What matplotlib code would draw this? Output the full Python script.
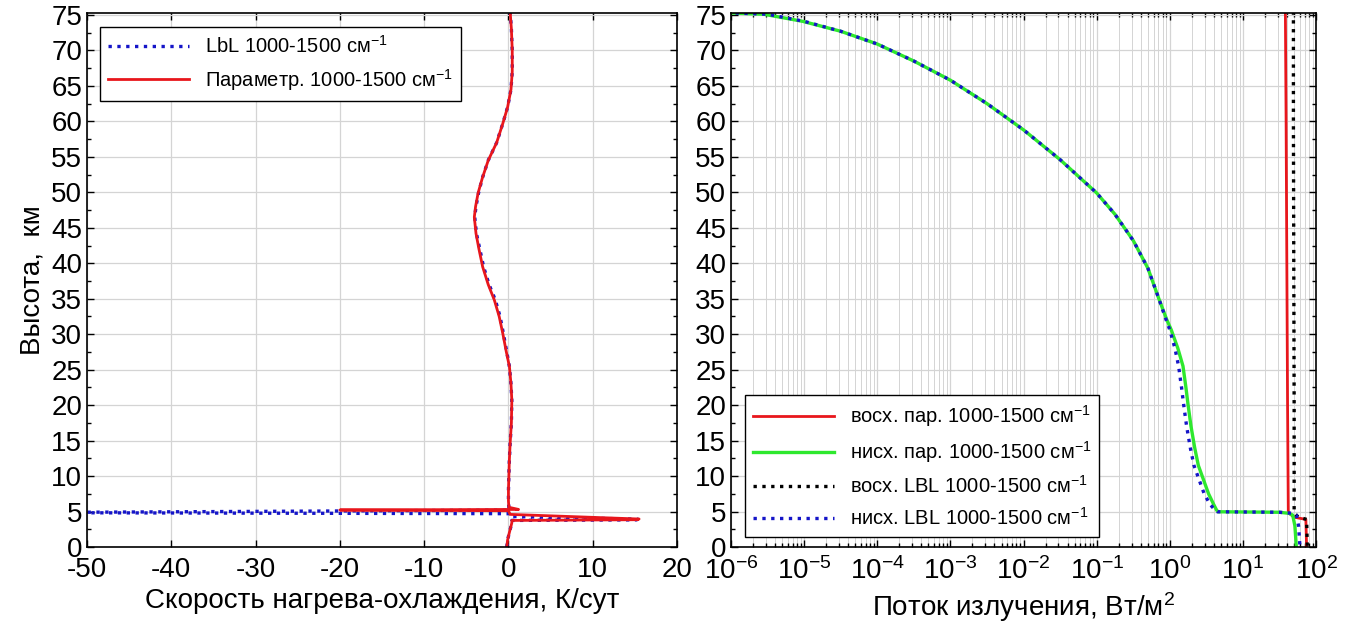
import numpy as np
import matplotlib
matplotlib.use("Agg")
import matplotlib.pyplot as plt
from matplotlib.ticker import MultipleLocator, LogLocator

plt.rcParams['font.family'] = ['Liberation Sans', 'DejaVu Sans']
plt.rcParams['mathtext.fontset'] = 'custom'
plt.rcParams['mathtext.rm'] = 'Liberation Sans'
plt.rcParams['mathtext.it'] = 'Liberation Sans'
plt.rcParams['mathtext.bf'] = 'Liberation Sans'
plt.rcParams['axes.unicode_minus'] = False

# --- left panel: heating/cooling rate, K/day vs altitude, km ---
alt_par = [75.5, 73, 70, 67, 64.5, 62, 59.7, 57, 54.5, 52, 49.9, 48, 46.5, 44.2, 42,
           39.5, 37, 34.8, 32.5, 30.1, 27.5, 25.4, 23, 20.7, 17.5, 14.6, 12, 10, 8,
           6.5, 5.6, 5.3, 5.22, 5.12, 4.6, 3.95, 3.85, 3.75, 3.4, 2.0, 1.0, 0.0]
hr_par = [0.2, 0.35, 0.45, 0.45, 0.3, -0.1, -0.67, -1.4, -2.4, -3.1, -3.6, -3.9, -4.05,
          -3.85, -3.5, -3.06, -2.4, -1.67, -1.1, -0.67, -0.25, 0.12, 0.3, 0.4, 0.35,
          0.2, 0.1, 0.05, 0.0, 0.0, 0.05, 1.2, -20.0, 0.0, 0.2, 15.5, 15.3, 0.4, 0.4,
          0.1, -0.1, -0.2]

alt_lbl = [75.5, 73, 70, 67, 64.5, 62, 59.7, 57, 54.5, 52, 49.9, 48, 46.5, 44.2, 42,
           39.5, 37, 34.8, 32.5, 30.1, 27.5, 25.4, 23, 20.7, 17.5, 14.6, 12, 10, 8,
           6.5, 5.6, 5.2, 4.85, 4.7, 4.3, 3.93, 3.83, 3.75, 3.4, 2.0, 1.0, 0.0]
hr_lbl = [0.2, 0.35, 0.45, 0.45, 0.3, -0.1, -0.67, -1.4, -2.4, -3.1, -3.55, -3.85,
          -4.0, -3.8, -3.4, -2.95, -2.3, -1.55, -1.0, -0.6, -0.2, 0.12, 0.3, 0.4,
          0.35, 0.2, 0.1, 0.05, 0.0, 0.0, 0.05, 0.1, -60.0, 0.3, 0.4, 15.3, 15.2,
          0.4, 0.4, 0.1, -0.1, -0.2]

# --- right panel: flux, W/m^2 (log10) vs altitude, km ---
alt_dn = [75.45, 75.3, 75.1, 74.1, 72.7, 70.9, 68.5, 65.8, 62.5, 58.8, 54.6, 49.9,
          46.9, 43.2, 39.3, 35.0, 32.0, 30.6, 28.0, 25.5, 22.5, 20.0, 17.0, 14.0,
          11.5, 9.5, 7.5, 6.0, 5.2, 4.97, 4.9, 4.75, 4.5, 3.0, 0.0]
lg_dn_lbl = [-6.3, -6.0, -5.5, -5.0, -4.5, -4.0, -3.5, -3.0, -2.5, -2.0, -1.5, -1.0,
             -0.75, -0.5, -0.3, -0.15, -0.05, 0.0, 0.07, 0.12, 0.16, 0.19, 0.23,
             0.28, 0.33, 0.40, 0.47, 0.55, 0.62, 0.65, 1.5, 1.68, 1.73, 1.76, 1.78]
lg_dn_par = [-6.3, -6.05, -5.55, -5.02, -4.5, -4.0, -3.5, -3.0, -2.5, -2.0, -1.5,
             -1.0, -0.75, -0.5, -0.3, -0.15, -0.04, 0.02, 0.11, 0.18, 0.22, 0.25,
             0.29, 0.34, 0.39, 0.46, 0.53, 0.60, 0.64, 0.66, 1.5, 1.63, 1.68, 1.71,
             1.73]

alt_up = [75.5, 60, 40, 20, 5.0, 4.6, 4.2, 3.9, 2.0, 0.0]
lg_up_par = [1.58, 1.59, 1.60, 1.61, 1.62, 1.65, 1.70, 1.86, 1.865, 1.87]
lg_up_lbl = [1.69, 1.69, 1.695, 1.70, 1.70, 1.72, 1.76, 1.87, 1.875, 1.88]

RED = '#e8161c'
GREEN = '#2ee82e'
BLUE = '#1515c8'
GRID = '#d4d4d4'

fig = plt.figure(figsize=(13.54, 6.41), dpi=100)
ax1 = fig.add_axes([0.0643, 0.1466, 0.4357, 0.8334])
ax2 = fig.add_axes([0.5399, 0.1466, 0.4321, 0.8334])

ax1.plot(hr_lbl, alt_lbl, ':', color=BLUE, lw=2.4, label='LbL 1000-1500 см$^{-1}$')
ax1.plot(hr_par, alt_par, '-', color=RED, lw=2.0, label='Параметр. 1000-1500 см$^{-1}$')
ax1.set_xlim(-50, 20)
ax1.set_ylim(0, 75.3)
ax1.xaxis.set_major_locator(MultipleLocator(10))
ax1.yaxis.set_major_locator(MultipleLocator(5))
ax1.yaxis.set_minor_locator(MultipleLocator(2.5))
ax1.set_xlabel('Скорость нагрева-охлаждения, К/сут', fontsize=20)
ax1.set_ylabel('Высота,  км', fontsize=20)
ax1.legend(loc='upper left', bbox_to_anchor=(0.022, 0.974), borderaxespad=0,
           fontsize=14.5, handlelength=4, fancybox=False, framealpha=1,
           edgecolor='black')

dn_lbl = np.power(10.0, lg_dn_lbl)
dn_par = np.power(10.0, lg_dn_par)
up_lbl = np.power(10.0, lg_up_lbl)
up_par = np.power(10.0, lg_up_par)

ax2.plot(up_par, alt_up, '-', color=RED, lw=2.0, label='восх. пар. 1000-1500 см$^{-1}$')
ax2.plot(dn_par, alt_dn, '-', color=GREEN, lw=2.4, label='нисх. пар. 1000-1500 см$^{-1}$')
ax2.plot(up_lbl, alt_up, ':', color='black', lw=2.4, label='восх. LBL 1000-1500 см$^{-1}$')
ax2.plot(dn_lbl, alt_dn, ':', color=BLUE, lw=2.4, label='нисх. LBL 1000-1500 см$^{-1}$')
ax2.set_xscale('log')
ax2.set_xlim(1e-6, 1e2)
ax2.set_ylim(0, 75.3)
ax2.xaxis.set_major_locator(LogLocator(base=10, numticks=20))
ax2.xaxis.set_minor_locator(LogLocator(base=10, subs=np.arange(2, 10), numticks=100))
ax2.yaxis.set_major_locator(MultipleLocator(5))
ax2.yaxis.set_minor_locator(MultipleLocator(2.5))
ax2.set_xlabel('Поток излучения, Вт/м$^2$', fontsize=20)
ax2.legend(loc='lower left', bbox_to_anchor=(0.024, 0.019), borderaxespad=0,
           fontsize=14.5, handlelength=4, fancybox=False, framealpha=1,
           edgecolor='black')

for ax in (ax1, ax2):
    ax.grid(True, which='major', color=GRID, lw=0.9)
    ax.tick_params(which='both', direction='in', top=True, right=True,
                   labelsize=20, length=5, width=1)
    ax.tick_params(which='minor', length=3)
    for s in ax.spines.values():
        s.set_linewidth(1.2)
ax2.grid(True, which='minor', axis='x', color=GRID, lw=0.7)
ax1.tick_params(axis='x', pad=7)
ax2.tick_params(axis='x', pad=7)

fig.savefig('out.png', dpi=100)
